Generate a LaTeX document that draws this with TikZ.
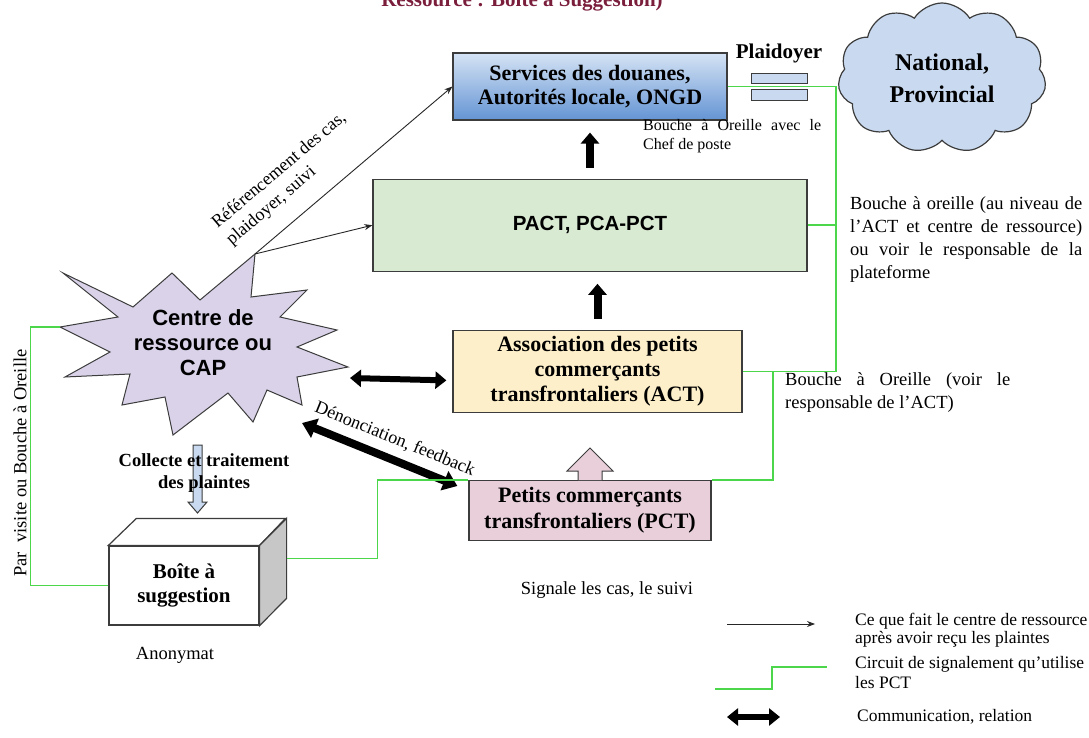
\documentclass[tikz,border=0pt]{standalone}
\usepackage{fontspec}
\setmainfont{Liberation Serif}
\setsansfont{Liberation Sans}
\usepackage{tikz}
\usetikzlibrary{arrows.meta, positioning, shapes.symbols}
\hyphenpenalty=10000
\exhyphenpenalty=10000

\definecolor{edgegray}{HTML}{3C3C3C}
\definecolor{douanetop}{HTML}{D5E3F4}
\definecolor{douanebot}{HTML}{6494D4}
\definecolor{pactgreen}{HTML}{D9EAD3}
\definecolor{actcream}{HTML}{FDEFC9}
\definecolor{pctpink}{HTML}{E8CFDA}
\definecolor{caplilac}{HTML}{D9D2E9}
\definecolor{lightblue}{HTML}{C9DAF0}
\definecolor{signalgreen}{HTML}{4CD64C}
\definecolor{titlered}{HTML}{7A1E3C}

\begin{document}
\begin{tikzpicture}[
    x=1pt, y=-1pt,
    base/.style={rectangle, draw=edgegray, line width=1.2pt, align=center, inner sep=2pt, font=\bfseries\fontsize{22}{24}\selectfont},
    douane/.style={base, top color=douanetop, bottom color=douanebot, minimum width=274pt, minimum height=67pt},
    pact/.style={base, fill=pactgreen, minimum width=434pt, minimum height=92pt, font=\sffamily\bfseries\fontsize{20.5}{23}\selectfont},
    act/.style={base, fill=actcream, minimum width=289pt, minimum height=82pt, font=\bfseries\fontsize{22}{25}\selectfont},
    pct/.style={base, fill=pctpink, minimum width=242pt, minimum height=60pt, font=\bfseries\fontsize{22}{26}\selectfont},
    plaid/.style={rectangle, draw=edgegray, line width=1pt, fill=lightblue, minimum width=56pt, minimum height=11pt, inner sep=0pt},
    sidenote/.style={font=\fontsize{18.5}{23}\selectfont, align=justify, inner sep=0pt, anchor=north west},
    smallnote/.style={font=\fontsize{16}{19}\selectfont, align=justify, inner sep=0pt, anchor=north west},
    legtext/.style={font=\fontsize{17.5}{18.5}\selectfont, align=left, inner sep=0pt, anchor=west},
    plaintext/.style={font=\fontsize{18.5}{20}\selectfont, inner sep=0pt},
    greenline/.style={draw=signalgreen, line width=1.8pt},
    refarrow/.style={-{Stealth[length=8pt, width=6pt]}, line width=0.9pt, draw=black!85},
    bigup/.style={-{Triangle[length=11pt, width=18pt]}, line width=8pt},
    bigboth/.style={{Triangle[length=11pt, width=17pt]}-{Triangle[length=11pt, width=17pt]}, line width=6pt},
    blockarrow/.style={draw=edgegray, line width=1pt}
]

    \fill[white] (0,0) rectangle (1089,738);
    \useasboundingbox (0,0) rectangle (1089,738);

    % --- Title (cut at the top) ---
    \node[anchor=base, text=titlered, font=\bfseries\fontsize{21}{24}\selectfont] (titre) at (522,7) {Ressource : Boîte à Suggestion)};

    % --- Nodes ---
    \node[douane] (douane) at (590,86.5) {Services des douanes,\\Autorités locale, ONGD};
    \node[pact, below=58pt of douane] (pact) {PACT, PCA-PCT};
    \node[act, below=58pt of pact, xshift=7.5pt] (act) {Association des petits\\commerçants\\transfrontaliers (ACT)};
    \node[pct, below=67pt of act, xshift=-7.5pt] (pct) {Petits commerçants\\transfrontaliers (PCT)};
    \filldraw[blockarrow, fill=pctpink] ([xshift=-12pt]pct.north) -- ++(0,-9) -- ++(-11,0) -- ++(23,-23) -- ++(23,23) -- ++(-11,0) -- ++(0,9);

    % Plaidoyer and cloud
    \node[plaid, minimum height=10pt] (plaid1) at (779,78.5) {};
    \node[plaid, below=5pt of plaid1] (plaid2) {};
    \node[above=10pt of plaid1, inner sep=0pt, font=\bfseries\fontsize{21}{22}\selectfont] (plaidoyer) {Plaidoyer};
    \node[cloud, cloud puffs=11, cloud puff arc=115, aspect=1.45, draw=edgegray, line width=1.2pt, fill=lightblue, minimum width=208pt, minimum height=150pt, align=center, font=\bfseries\fontsize{24}{32}\selectfont] (natprov) at (942,78) {National,\\Provincial};

    % Centre de ressource (explosion)
    \filldraw[fill=caplilac, draw=edgegray, line width=1pt] (63,273) -- (133,307) -- (172,273) -- (200,300) -- (255,254) -- (251,297) -- (307,290) -- (280,317) -- (337,330) -- (297,347) -- (348,367) -- (297,377) -- (302,405) -- (267,390) -- (253,422) -- (228,393) -- (173,435) -- (165,397) -- (122,405) -- (130,374) -- (65,377) -- (110,352) -- (60,327) -- (118,317) -- cycle;
    \node[align=center, inner sep=0pt, font=\sffamily\bfseries\fontsize{22}{25}\selectfont] (cap) at (203,343) {Centre de\\ressource ou\\CAP};
    \coordinate (captip) at (255,254);
    \coordinate (capeast) at (350,378);
    \coordinate (capwest) at (60,327);
    \coordinate (capse) at (302,423);

    % Boite a suggestion
    \node[rectangle, draw=edgegray, fill=white, line width=1.2pt, minimum width=150pt, minimum height=79pt, align=center, font=\bfseries\fontsize{21}{24}\selectfont] (boite) at (184,585.5) {Boîte à\\suggestion};
    \filldraw[fill=white, draw=edgegray, line width=1.2pt] (boite.north west) -- ++(28,-27) -- ++(149,0) -- (boite.north east) -- cycle;
    \filldraw[fill=black!22, draw=edgegray, line width=1.2pt] (boite.north east) -- ++(27,-27) -- ++(0,80) -- (boite.south east) -- cycle;
    \filldraw[blockarrow, fill=lightblue] (193,445) -- (202,445) -- (202,502) -- (207,502) -- (197.5,513) -- (188,502) -- (193,502) -- cycle;
    \node[align=center, inner sep=0pt, font=\bfseries\fontsize{18.5}{22}\selectfont] (collecte) at (204,473) {Collecte et traitement\\des plaintes};

    % Free texts
    \node[smallnote, text width=178pt] (chefposte) at (643,119) {Bouche à Oreille avec le\linebreak Chef de poste};
    \node[sidenote, text width=232pt] (ouiedire) at (850,196) {Bouche à oreille (au niveau de\linebreak l’ACT et centre de ressource)\linebreak ou voir le responsable de la plateforme};
    \node[sidenote, text width=225pt] (ouieact) at (785,372) {Bouche à Oreille (voir le\linebreak responsable de l’ACT)};
    \node[plaintext] (signale) at (607,590.5) {Signale les cas, le suivi};
    \node[plaintext] (anonymat) at (175,655) {Anonymat};
    \node[plaintext, rotate=90] (parvisite) at (20,463) {Par\ \ visite ou Bouche à Oreille};

    % --- Connections ---
    \draw[refarrow] (captip) -- (douane.west) node[pos=0.28, above=17pt, sloped, align=left, inner sep=0pt, font=\fontsize{18}{22}\selectfont] {Référencement des cas,\\plaidoyer, suivi};
    \draw[refarrow] (captip) -- (pact.west);

    \draw[bigup] ([yshift=11pt]pact.north) -- ([yshift=-12pt]douane.south);
    \draw[bigup] ([yshift=11pt]act.north) -- ([yshift=-12pt]act.north |- pact.south);

    \draw[bigboth] (capeast) -- ([shift={(-6pt,-9pt)}]act.west);
    \draw[line width=8pt, {Triangle[length=14pt, width=20pt]}-{Triangle[length=14pt, width=20pt]}] (capse) -- ([shift={(-11pt,-6pt)}]pct.north west) node[pos=0.55, above=8pt, sloped, inner sep=0pt, font=\fontsize{18}{20}\selectfont] {Dénonciation, feedback};

    % signalement circuit
    \draw[greenline] (douane.east) -- ++(108,0) |- (act.east);
    \draw[greenline] (pact.east) -- ++(28,0);
    \draw[greenline] (pct.north east) -| ([xshift=30pt]act.east);
    \draw[greenline] (pct.north west) -- ++(-91,0) |- ([shift={(27pt,27pt)}]boite.east);
    \draw[greenline] (boite.west) -- ++(-78,0) |- (capwest);

    % --- Legend ---
    \coordinate (leg1a) at (727,624);
    \coordinate (leg1b) at (815,624);
    \draw[refarrow] (leg1a) -- (leg1b);
    \node[legtext] (leg1) at (855,630) {Ce que fait le centre de ressource\\après avoir reçu les plaintes};

    \coordinate (leg2a) at (715,689);
    \coordinate (leg2b) at (827,667);
    \draw[greenline, line width=2.2pt] (leg2a) -- ++(57,0) |- (leg2b);
    \node[legtext, font=\fontsize{17.5}{20}\selectfont] (leg2) at (855,673) {Circuit de signalement qu’utilise\\les PCT};

    \coordinate (leg3a) at (727,717);
    \coordinate (leg3b) at (780,717);
    \draw[bigboth] (leg3a) -- (leg3b);
    \node[legtext] (leg3) at (857,717) {Communication, relation};

\end{tikzpicture}
\end{document}
